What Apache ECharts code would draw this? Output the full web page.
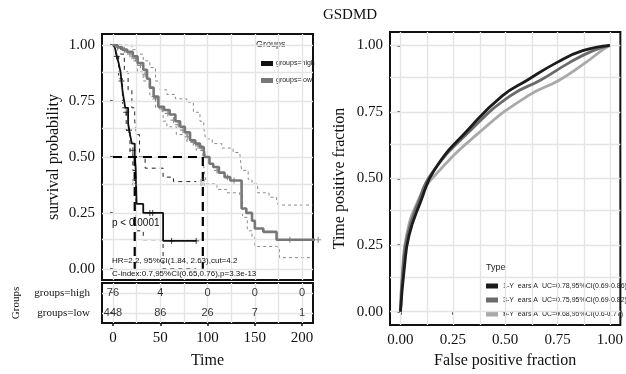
<!DOCTYPE html>
<html><head><meta charset="utf-8">
<script src="https://cdn.jsdelivr.net/npm/echarts@6/dist/echarts.min.js"></script>
<style>html,body{margin:0;padding:0;background:#fff}#c{width:626px;height:374px}</style>
</head><body><div id="c"></div>
<script>
// ---------- data ----------
const timeTicks = [0, 50, 100, 150, 200];
const timeGrid = [0, 25, 50, 75, 100, 125, 150, 175, 200];
const probTicks = [0, 0.25, 0.5, 0.75, 1];
const probGrid = [0, 0.125, 0.25, 0.375, 0.5, 0.625, 0.75, 0.875, 1];
const groups = ['groups=high', 'groups=low'];
const riskHigh = [76, 4, 0, 0, 0];
const riskLow = [448, 86, 26, 7, 1];
const medianHigh = 23;
const medianLow = 95;

const kmHigh = [[0,1],[2,0.99],[4,0.95],[6,0.92],[8,0.88],[10,0.80],[11,0.77],[13,0.72],[16,0.65],[18,0.60],[20,0.56],[23,0.50],[24,0.45],[25,0.29],[32,0.25],[53,0.125],[88,0.125]];
const kmHighUpper = [[0,1],[4,1],[8,0.96],[12,0.88],[16,0.80],[20,0.72],[23,0.66],[25,0.60],[28,0.50],[34,0.45],[53,0.41],[64,0.39],[88,0.39]];
const kmHighLower = [[0,1],[3,0.95],[6,0.85],[10,0.72],[14,0.62],[18,0.52],[21,0.44],[24,0.35],[25,0.17],[32,0.13],[53,0.0],[88,0.0]];
const kmLow = [[0,1],[5,0.99],[10,0.98],[15,0.97],[21,0.95],[26,0.92],[32,0.89],[36,0.85],[39,0.81],[43,0.77],[48,0.725],[54,0.71],[60,0.69],[66,0.66],[71,0.635],[76,0.61],[81.5,0.575],[87,0.56],[92,0.545],[96,0.53],[97,0.50],[102,0.47],[106,0.455],[112,0.43],[118,0.41],[124,0.395],[136,0.27],[141,0.25],[147,0.215],[150,0.18],[159,0.165],[173,0.13],[217,0.13]];
const kmLowUpper = [[0,1],[10,1],[20,0.98],[25,0.96],[32,0.93],[39,0.90],[45,0.84],[50,0.80],[57,0.78],[66,0.76],[78,0.745],[85,0.70],[92,0.66],[96,0.63],[98,0.58],[105,0.56],[115,0.54],[127,0.52],[134,0.515],[136,0.44],[143,0.40],[147,0.38],[153,0.34],[165,0.32],[173,0.30],[175,0.285],[211,0.285]];
const kmLowLower = [[0,1],[10,0.97],[20,0.93],[26,0.88],[32,0.84],[39,0.77],[45,0.72],[53,0.66],[57,0.635],[67,0.60],[78,0.57],[88,0.53],[95,0.50],[97,0.42],[99,0.38],[110,0.355],[120,0.34],[134,0.33],[137,0.23],[142,0.17],[147,0.14],[150,0.10],[173,0.095],[176,0.05],[211,0.05]];
const censorHigh = [[4,0.95],[9,0.84],[14,0.70],[17,0.62],[21,0.53],[39,0.25],[42,0.25],[62,0.125],[88,0.125]];
const censorLow = [[5,0.99],[12,0.98],[18,0.96],[24,0.94],[29,0.91],[34,0.87],[45,0.76],[52,0.715],[58,0.695],[64,0.665],[69,0.645],[74,0.62],[79,0.59],[85,0.565],[90,0.55],[94,0.54],[110,0.44],[121,0.41],[128,0.395],[187,0.13],[217,0.13]];

const rocNames = ['1-Y  ears,A  UC=0.78,95%CI(0.69-0.86)', '3-Y  ears,A  UC=0.75,95%CI(0.69-0.82)', '5-Y  ears,A  UC=0.68,95%CI(0.6-0.77)'];
const fpr1 = [0, 0.018, 0.041, 0.095, 0.164, 0.325, 0.486, 0.607, 0.746, 0.87, 1];
const tpr1 = [0, 0.16, 0.286, 0.41, 0.535, 0.685, 0.81, 0.87, 0.935, 0.98, 1];
const fpr3 = [0, 0.012, 0.033, 0.085, 0.15, 0.34, 0.524, 0.67, 0.807, 0.92, 1];
const tpr3 = [0, 0.16, 0.286, 0.41, 0.52, 0.685, 0.81, 0.87, 0.935, 0.98, 1];
const fpr5 = [0, 0.01, 0.029, 0.08, 0.156, 0.394, 0.608, 0.76, 0.884, 0.96, 1];
const tpr5 = [0, 0.16, 0.286, 0.41, 0.504, 0.685, 0.81, 0.87, 0.935, 0.98, 1];
const rocTicks = [0, 0.25, 0.5, 0.75, 1];
const rocGrid = [0, 0.125, 0.25, 0.375, 0.5, 0.625, 0.75, 0.875, 1];

// ---------- styles ----------
const SERIF = "'Liberation Serif','Times New Roman',serif";
const SANS = "'Liberation Sans',Arial,sans-serif";
const NARROW = "'Liberation Sans Narrow','Liberation Sans',Arial,sans-serif";
const GRIDC = '#e4e4e4';
const cHigh = '#111111', cLow = '#777777';
const rocColors = ['#1c1c1c', '#6b6b6b', '#a9a9a9'];

function zip(a, b) { return a.map((v, i) => [v, b[i]]); }
function gridLines(xi, yi, xs, ys) {
  return {
    type: 'line', xAxisIndex: xi, yAxisIndex: yi, data: [], silent: true, z: 0,
    markLine: {
      silent: true, symbol: ['none', 'none'], label: { show: false }, animation: false,
      lineStyle: { color: GRIDC, width: 1.3, type: 'solid' },
      emphasis: { disabled: true },
      data: [...xs.map(v => ({ xAxis: v })), ...ys.map(v => ({ yAxis: v }))]
    }
  };
}
const plusSym = 'path://M5,0L5,10M0,5L10,5';

const chart = echarts.init(document.getElementById('c'), null, { renderer: 'canvas' });
const axisLblSerif = { fontFamily: SERIF, fontSize: 15, color: '#111' };

const option = {
  animation: false,
  backgroundColor: '#fff',
  grid: [
    { left: 102, top: 34, width: 211, height: 246, show: true, borderColor: '#111', borderWidth: 2, backgroundColor: 'transparent' },
    { left: 102, top: 283, width: 211, height: 40, show: true, borderColor: '#111', borderWidth: 2, backgroundColor: 'transparent' },
    { left: 390, top: 32, width: 239, height: 295, show: true, borderColor: '#111', borderWidth: 2, backgroundColor: 'transparent' }
  ],
  xAxis: [
    { gridIndex: 0, type: 'value', min: -11.6, max: 211.5, axisLabel: { show: false }, axisTick: { show: false }, axisLine: { show: false }, splitLine: { show: false } },
    { gridIndex: 1, type: 'value', min: -11.6, max: 211.5, axisLine: { show: false }, splitLine: { show: false },
      axisLabel: { ...axisLblSerif, customValues: timeTicks, margin: 8 },
      axisTick: { show: true, customValues: timeTicks, length: 3, lineStyle: { color: '#111', width: 1.5 } },
      name: 'Time', nameLocation: 'middle', nameGap: 30, nameTextStyle: { fontFamily: SERIF, fontSize: 16, color: '#111' } },
    { gridIndex: 2, type: 'value', min: -0.05, max: 1.05, axisLine: { show: false }, splitLine: { show: false },
      axisLabel: { ...axisLblSerif, customValues: rocTicks, margin: 8, formatter: v => v.toFixed(2) },
      axisTick: { show: true, customValues: rocTicks, length: 3, lineStyle: { color: '#111', width: 1.5 } },
      name: 'False positive fraction', nameLocation: 'middle', nameGap: 28, nameTextStyle: { fontFamily: SERIF, fontSize: 16, color: '#111' } }
  ],
  yAxis: [
    { gridIndex: 0, type: 'value', min: -0.05, max: 1.05, axisLine: { show: false }, splitLine: { show: false },
      axisLabel: { ...axisLblSerif, customValues: probTicks, margin: 7, formatter: v => v.toFixed(2) },
      axisTick: { show: true, customValues: probTicks, length: 3, lineStyle: { color: '#111', width: 1.5 } },
      name: 'survival probability', nameLocation: 'middle', nameGap: 40, nameTextStyle: { fontFamily: SERIF, fontSize: 16, color: '#111' } },
    { gridIndex: 1, type: 'category', data: groups, inverse: true, boundaryGap: true, axisLine: { show: false }, splitLine: { show: false },
      axisLabel: { fontFamily: SERIF, fontSize: 11, color: '#111', margin: 12 },
      axisTick: { show: true, alignWithLabel: true, length: 3, lineStyle: { color: '#111', width: 1.5 } },
      name: 'Groups', nameLocation: 'middle', nameGap: 80, nameTextStyle: { fontFamily: SERIF, fontSize: 11, color: '#111' } },
    { gridIndex: 2, type: 'value', min: -0.05, max: 1.05, axisLine: { show: false }, splitLine: { show: false },
      axisLabel: { ...axisLblSerif, customValues: rocTicks, margin: 7, formatter: v => v.toFixed(2) },
      axisTick: { show: true, customValues: rocTicks, length: 3, lineStyle: { color: '#111', width: 1.5 } },
      name: 'Time positive fraction', nameLocation: 'middle', nameGap: 42, nameTextStyle: { fontFamily: SERIF, fontSize: 16, color: '#111' } }
  ],
  legend: [
    { data: groups, left: 256, top: 55, orient: 'vertical', icon: 'rect', itemWidth: 12, itemHeight: 5, itemGap: 10, selectedMode: false,
      textStyle: { fontFamily: SANS, fontSize: 7, color: '#222', padding: [0,0,0,-2] } },
    { data: rocNames, left: 481, top: 277, orient: 'vertical', icon: 'rect', itemWidth: 12, itemHeight: 5, itemGap: 6, selectedMode: false,
      textStyle: { fontFamily: SANS, fontSize: 7, color: '#222', lineHeight: 8 } }
  ],
  graphic: [
    { type: 'text', x: 350, y: 15, style: { text: 'GSDMD', fontFamily: SERIF, fontSize: 15, fill: '#111', align: 'center', verticalAlign: 'middle' } },
    { type: 'text', x: 256, y: 45, style: { text: 'Groups', fontFamily: SANS, fontSize: 9, fill: '#222', verticalAlign: 'middle' } },
    { type: 'text', x: 486, y: 268, style: { text: 'Type', fontFamily: SANS, fontSize: 9, fill: '#222', verticalAlign: 'middle' } },
    { type: 'text', x: 112, y: 223, z: 20, style: { text: 'p < 0.0001', fontFamily: SANS, fontSize: 10, fill: '#111', verticalAlign: 'middle' } },
    { type: 'text', x: 112, y: 261, z: 20, style: { text: 'HR=2.2, 95%CI(1.84, 2.63),cut=4.2', fontFamily: SANS, fontSize: 8, fill: '#111', verticalAlign: 'middle' } },
    { type: 'text', x: 112, y: 274, z: 20, style: { text: 'C-index:0.7,95%CI(0.65,0.76),p=3.3e-13', fontFamily: SANS, fontSize: 8, fill: '#111', verticalAlign: 'middle' } }
  ],
  series: [
    gridLines(0, 0, timeGrid, probGrid),
    gridLines(1, 1, timeGrid, groups),
    gridLines(2, 2, rocGrid, rocGrid),
    // KM confidence intervals
    { type: 'line', xAxisIndex: 0, yAxisIndex: 0, step: 'end', data: kmLowUpper, showSymbol: false, silent: true, z: 3, lineStyle: { color: '#8a8a8a', width: 1, type: [3, 3] } },
    { type: 'line', xAxisIndex: 0, yAxisIndex: 0, step: 'end', data: kmLowLower, showSymbol: false, silent: true, z: 3, lineStyle: { color: '#8a8a8a', width: 1, type: [3, 3] } },
    { type: 'line', xAxisIndex: 0, yAxisIndex: 0, step: 'end', data: kmHighUpper, showSymbol: false, silent: true, z: 3, lineStyle: { color: '#222', width: 1, type: [4, 4] } },
    { type: 'line', xAxisIndex: 0, yAxisIndex: 0, step: 'end', data: kmHighLower, showSymbol: false, silent: true, z: 3, lineStyle: { color: '#222', width: 1, type: [4, 4] } },
    // median lines
    { type: 'line', xAxisIndex: 0, yAxisIndex: 0, data: [[0, 0.5], [medianLow, 0.5]], showSymbol: false, silent: true, z: 6, lineStyle: { color: '#000', width: 2.2, type: [9, 6] } },
    { type: 'line', xAxisIndex: 0, yAxisIndex: 0, data: [[medianHigh, 0.5], [medianHigh, 0]], showSymbol: false, silent: true, z: 6, lineStyle: { color: '#000', width: 2.2, type: [9, 6] } },
    { type: 'line', xAxisIndex: 0, yAxisIndex: 0, data: [[medianLow, 0.5], [medianLow, 0]], showSymbol: false, silent: true, z: 6, lineStyle: { color: '#000', width: 2.2, type: [9, 6] } },
    // KM curves
    { name: 'groups=high', type: 'line', xAxisIndex: 0, yAxisIndex: 0, step: 'end', data: kmHigh, showSymbol: false, z: 5, color: cHigh, lineStyle: { color: cHigh, width: 1.8 } },
    { name: 'groups=low', type: 'line', xAxisIndex: 0, yAxisIndex: 0, step: 'end', data: kmLow, showSymbol: false, z: 5, clip: false, color: cLow, lineStyle: { color: cLow, width: 2.6 } },
    { type: 'scatter', xAxisIndex: 0, yAxisIndex: 0, data: censorHigh, symbol: plusSym, symbolSize: 6, silent: true, z: 5, itemStyle: { color: 'none', borderColor: cHigh, borderWidth: 1 } },
    { type: 'scatter', xAxisIndex: 0, yAxisIndex: 0, data: censorLow, symbol: plusSym, symbolSize: 6, silent: true, z: 5, clip: false, itemStyle: { color: 'none', borderColor: cLow, borderWidth: 1.2 } },
    // median labels
    { type: 'scatter', xAxisIndex: 0, yAxisIndex: 0, data: [[medianHigh, 0.41], [medianLow, 0.41]], symbolSize: 0, silent: true, z: 7,
      label: { show: true, formatter: p => String(p.value[0]), rotate: 90, offset: [-5, 0], position: 'inside', fontFamily: SANS, fontSize: 7, color: '#777' } },
    // risk table
    { type: 'scatter', xAxisIndex: 1, yAxisIndex: 1, symbolSize: 0, silent: true, z: 5,
      data: timeTicks.map((t, i) => [t, groups[0], riskHigh[i]]).concat(timeTicks.map((t, i) => [t, groups[1], riskLow[i]])),
      label: { show: true, position: 'inside', formatter: p => String(p.value[2]), fontFamily: NARROW, fontSize: 11, color: '#000' } },
    // ROC curves
    { name: rocNames[0], type: 'line', xAxisIndex: 2, yAxisIndex: 2, data: zip(fpr1, tpr1), smooth: true, showSymbol: false, z: 7, color: rocColors[0], lineStyle: { color: rocColors[0], width: 2.8 } },
    { name: rocNames[1], type: 'line', xAxisIndex: 2, yAxisIndex: 2, data: zip(fpr3, tpr3), smooth: true, showSymbol: false, z: 6, color: rocColors[1], lineStyle: { color: rocColors[1], width: 2.8 } },
    { name: rocNames[2], type: 'line', xAxisIndex: 2, yAxisIndex: 2, data: zip(fpr5, tpr5), smooth: true, showSymbol: false, z: 5, color: rocColors[2], lineStyle: { color: rocColors[2], width: 2.8 } }
  ]
};
chart.setOption(option);
</script>
</body></html>
